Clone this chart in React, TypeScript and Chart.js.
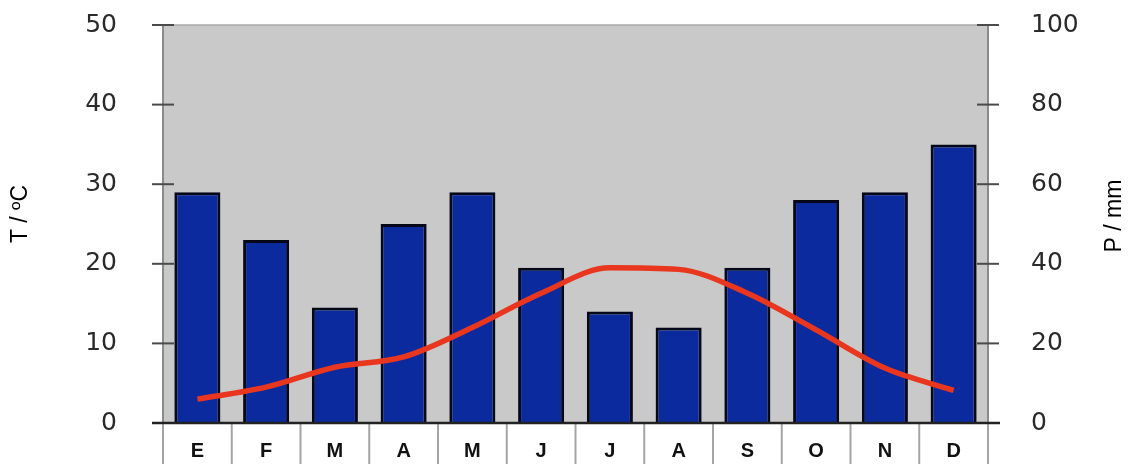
import React, { useEffect, useRef } from "react";
import { Chart, registerables } from "chart.js";

Chart.register(...registerables);

const months = ["E", "F", "M", "A", "M", "J", "J", "A", "S", "O", "N", "D"];
const precipitation = [58, 46, 29, 50, 58, 39, 28, 24, 39, 56, 58, 70];
const temperature = [3, 4.5, 7, 8.3, 12, 16.3, 19.5, 19.3, 16.3, 11.7, 6.9, 4.1];
const tempTicks = [0, 10, 20, 30, 40, 50];
const precipTicks = [0, 20, 40, 60, 80, 100];
const leftTitle = "T / ºC";
const rightTitle = "P / mm";

const FONT = "'Liberation Sans', Arial, sans-serif";
const TICKFONT = "'DejaVu Sans', sans-serif";

const framePlugin = {
  id: "frame",
  beforeDraw(chart: any) {
    const { ctx, chartArea: a } = chart;
    ctx.save();
    ctx.fillStyle = "#c9c9c9";
    ctx.fillRect(a.left, a.top, a.right - a.left, a.bottom - a.top);
    ctx.restore();
  },
  afterDraw(chart: any) {
    const { ctx, chartArea: a, scales } = chart;
    const x = scales.x;
    const yT = scales.yT;
    const yP = scales.yP;
    const seg = (x1: number, y1: number, x2: number, y2: number) => {
      ctx.beginPath();
      ctx.moveTo(x1, y1);
      ctx.lineTo(x2, y2);
      ctx.stroke();
    };
    ctx.save();
    // category separators below the plot
    ctx.strokeStyle = "#a4a4a4";
    ctx.lineWidth = 2;
    for (let i = 0; i <= months.length; i++) {
      let px: number;
      if (i === 0) px = a.left;
      else if (i === months.length) px = a.right;
      else px = (x.getPixelForValue(i - 1) + x.getPixelForValue(i)) / 2;
      seg(px, a.bottom, px, chart.height);
    }
    // top edge
    ctx.strokeStyle = "#a9a9a9";
    ctx.lineWidth = 1.5;
    seg(a.left, a.top, a.right, a.top);
    // side axes
    ctx.strokeStyle = "#8a8a8a";
    ctx.lineWidth = 2;
    seg(a.left, a.top, a.left, a.bottom);
    seg(a.right, a.top, a.right, a.bottom);
    // tick marks crossing axes
    ctx.strokeStyle = "#4a4a4a";
    ctx.lineWidth = 2;
    tempTicks.forEach((v) => {
      const py = yT.getPixelForValue(v);
      seg(a.left - 11, py, a.left + 11, py);
    });
    precipTicks.forEach((v) => {
      const py = yP.getPixelForValue(v);
      seg(a.right - 11, py, a.right + 11, py);
    });
    // bottom axis line
    ctx.strokeStyle = "#222";
    ctx.lineWidth = 2.5;
    seg(a.left - 11, a.bottom, a.right + 12, a.bottom);
    // axis titles
    ctx.fillStyle = "#000";
    ctx.font = `23px ${FONT}`;
    ctx.textAlign = "center";
    ctx.textBaseline = "middle";
    ctx.save();
    ctx.translate(21, 214);
    ctx.rotate(-Math.PI / 2);
    ctx.fillText(leftTitle, 0, 0);
    ctx.restore();
    ctx.save();
    ctx.translate(1115, 216);
    ctx.rotate(-Math.PI / 2);
    ctx.fillText(rightTitle, 0, 0);
    ctx.restore();
    ctx.restore();
  },
};

export default function App() {
  const ref = useRef<HTMLCanvasElement | null>(null);
  useEffect(() => {
    if (!ref.current) return;
    const chart = new Chart(ref.current, {
      type: "bar",
      data: {
        labels: months,
        datasets: [
          {
            type: "line",
            label: "T",
            data: temperature,
            yAxisID: "yT",
            borderColor: "#e8361f",
            borderWidth: 5.5,
            pointRadius: 0,
            cubicInterpolationMode: "monotone",
            fill: false,
            order: 0,
          } as any,
          {
            type: "bar",
            label: "P",
            data: precipitation,
            yAxisID: "yP",
            backgroundColor: "#0b2a9e",
            borderColor: "#050818",
            borderWidth: 3,
            categoryPercentage: 1,
            barPercentage: 0.67,
            order: 1,
          } as any,
        ],
      },
      options: {
        responsive: false,
        animation: false,
        events: [],
        layout: { padding: { top: 25, left: 0, right: 0, bottom: 0 } },
        plugins: { legend: { display: false }, tooltip: { enabled: false } },
        scales: {
          x: {
            offset: true,
            grid: { display: false },
            border: { display: false },
            ticks: {
              color: "#111",
              font: { family: FONT, size: 20, weight: "bold" },
              padding: 8,
              maxRotation: 0,
              autoSkip: false,
            },
            afterFit: (s: any) => {
              s.height = 41;
              s.paddingLeft = 0;
              s.paddingRight = 0;
            },
          },
          yT: {
            position: "left",
            min: 0,
            max: 50,
            grid: { display: false },
            border: { display: false },
            ticks: {
              stepSize: 10,
              color: "#2a2a2a",
              font: { family: TICKFONT, size: 25, weight: "normal" },
              padding: 38,
            },
            afterFit: (s: any) => {
              s.width = 163;
              s.paddingTop = 0;
              s.paddingBottom = 0;
            },
          },
          yP: {
            position: "right",
            min: 0,
            max: 100,
            grid: { display: false },
            border: { display: false },
            ticks: {
              stepSize: 20,
              color: "#2a2a2a",
              font: { family: TICKFONT, size: 25, weight: "normal" },
              padding: 35,
            },
            afterFit: (s: any) => {
              s.width = 140;
              s.paddingTop = 0;
              s.paddingBottom = 0;
            },
          },
        },
      } as any,
      plugins: [framePlugin],
    });
    return () => chart.destroy();
  }, []);
  return (
    <div style={{ position: "absolute", left: 0, top: 0, width: 1128, height: 464, background: "#fff" }}>
      <canvas ref={ref} width={1128} height={464} style={{ display: "block" }} />
    </div>
  );
}
